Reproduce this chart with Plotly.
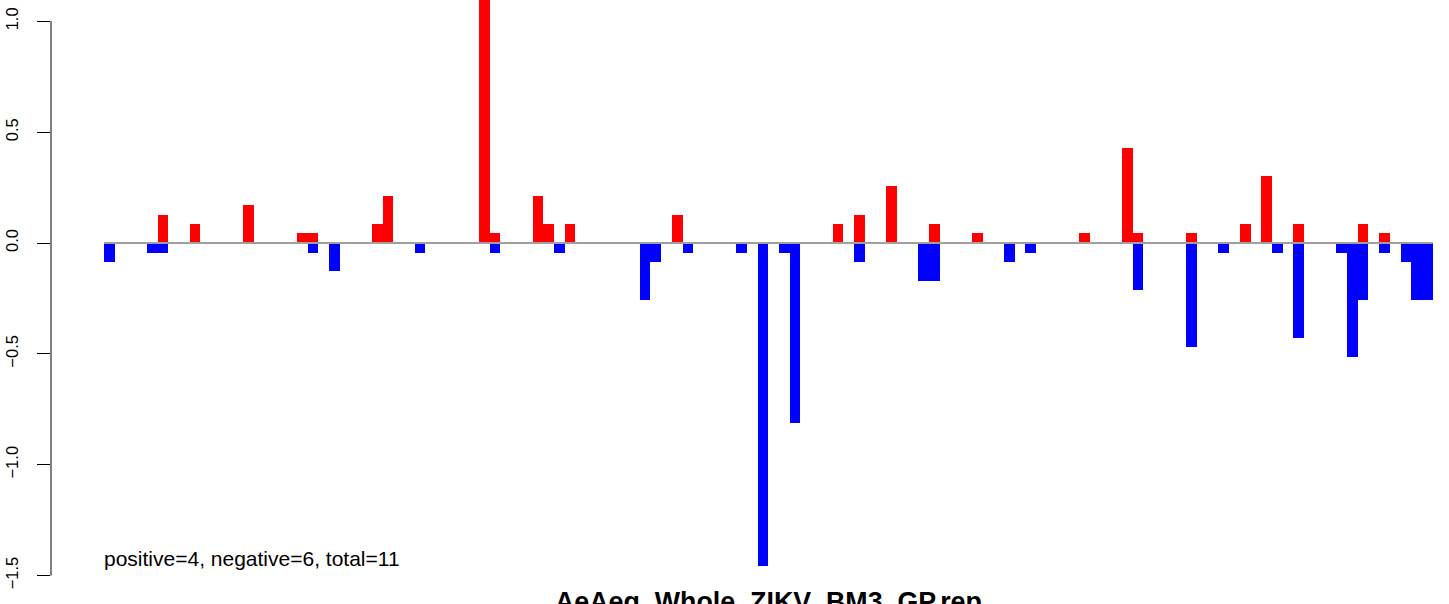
import plotly.graph_objects as go

# ---- data ----
n_bars = 124
pos_idx = [5, 8, 13, 18, 19, 25, 26, 35, 36, 40, 41, 43, 53, 68, 70, 73, 77,
           81, 91, 95, 96, 101, 106, 108, 111, 117, 119]
pos_val = [0.128, 0.085, 0.171, 0.043, 0.043, 0.085, 0.214, 1.20, 0.043, 0.214,
           0.085, 0.085, 0.128, 0.085, 0.128, 0.257, 0.085, 0.043, 0.043, 0.428,
           0.043, 0.043, 0.085, 0.300, 0.085, 0.085, 0.043]
neg_idx = [0, 4, 5, 19, 21, 29, 36, 42, 50, 51, 54, 59, 61, 63, 64, 70, 76, 77,
           84, 86, 96, 101, 104, 109, 111, 115, 116, 117, 119, 121, 122, 123]
neg_val = [-0.085, -0.043, -0.043, -0.043, -0.128, -0.043, -0.043, -0.043, -0.257,
           -0.085, -0.043, -0.043, -1.455, -0.043, -0.813, -0.085, -0.171, -0.171,
           -0.085, -0.043, -0.214, -0.470, -0.043, -0.043, -0.428, -0.043, -0.513,
           -0.257, -0.043, -0.085, -0.257, -0.257]
y_ticks = [-1.5, -1.0, -0.5, 0.0, 0.5, 1.0]
summary_text = "positive=4, negative=6, total=11"
title_text = "AeAeg_Whole_ZIKV_BM3_GP.rep"

x = list(range(n_bars))
pos = [0.0] * n_bars
neg = [0.0] * n_bars
for i, v in zip(pos_idx, pos_val):
    pos[i] = v
for i, v in zip(neg_idx, neg_val):
    neg[i] = v

FONT = "Liberation Sans, Arial, Helvetica, sans-serif"

fig = go.Figure()
fig.add_trace(go.Bar(x=x, y=pos, width=1.0, marker=dict(color="#FF0000", line=dict(width=0)),
                     showlegend=False, hoverinfo="x+y"))
fig.add_trace(go.Bar(x=x, y=neg, width=1.0, marker=dict(color="#0000FF", line=dict(width=0)),
                     showlegend=False, hoverinfo="x+y"))

# zero reference line (drawn over bars)
fig.add_shape(type="line", xref="x", yref="y", x0=-0.5, x1=n_bars - 0.5, y0=0, y1=0,
              line=dict(color="#A0A0A0", width=2), layer="above")
# R-style y axis line from -1.5 to 1.0
fig.add_shape(type="line", xref="paper", yref="y", x0=0, x1=0, y0=y_ticks[0], y1=y_ticks[-1],
              line=dict(color="black", width=1), layer="above")

fig.add_annotation(x=-0.69, y=-1.421, xref="x", yref="y", text=summary_text,
                   showarrow=False, xanchor="left", yanchor="middle",
                   font=dict(family=FONT, size=21, color="black"))
fig.add_annotation(x=0.5166, y=-0.0195, xref="paper", yref="paper",
                   text="<b>" + title_text + "</b>",
                   showarrow=False, xanchor="center", yanchor="middle",
                   font=dict(family=FONT, size=26.8, color="black"))

fig.update_layout(
    template="none",
    width=1449, height=604,
    margin=dict(l=51, r=9, t=0, b=14, pad=0, autoexpand=False),
    paper_bgcolor="white", plot_bgcolor="white",
    barmode="overlay", bargap=0,
    font=dict(family=FONT, color="black"),
    xaxis=dict(range=[-5.446, 124.185], visible=False, showgrid=False, zeroline=False,
               automargin=False),
    yaxis=dict(range=[-1.5652, 1.0961], tickvals=y_ticks, tickformat=".1f",
               ticks="outside", ticklen=13, tickwidth=1, tickcolor="black",
               tickangle=-90, showgrid=False, zeroline=False, showline=False,
               automargin=False, ticklabelstandoff=12,
               tickfont=dict(family=FONT, size=16.5, color="black")),
)

fig.write_html("out.html", config={"displayModeBar": False},
               post_script="document.body.style.margin='0';document.body.style.overflow='hidden';")
